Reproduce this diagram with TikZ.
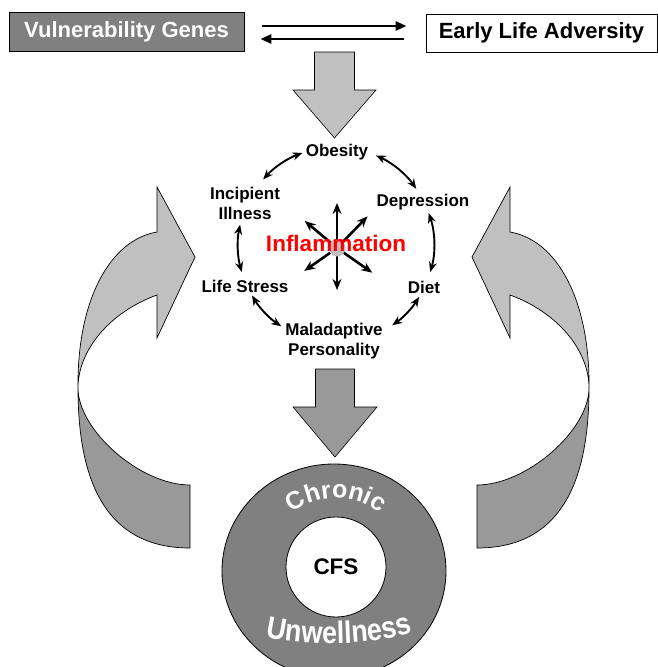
\documentclass[tikz,border=0pt]{standalone}
\usepackage{fontspec}
\setmainfont{Liberation Sans}
\newfontfamily\unwfont[FakeStretch=0.87]{Liberation Sans Bold}
\usetikzlibrary{arrows.meta,decorations.text}
\definecolor{lightg}{HTML}{C0C0C0}
\definecolor{darkg}{HTML}{999999}
\definecolor{boxg}{HTML}{808080}
\definecolor{inflred}{HTML}{FF0000}
\begin{document}
\begin{tikzpicture}[x=1pt,y=1pt,
  topbox/.style={draw=black, line width=0.8pt, inner sep=0pt, font=\fontsize{22}{24}\selectfont\bfseries},
  lbl/.style={font=\fontsize{17}{20}\selectfont\bfseries, align=center, inner sep=0pt},
  dbl/.style={line width=2.6pt, -{Triangle[length=11pt,width=9pt]}},
  cyc/.style={line width=1.9pt, {Stealth[length=10pt,width=8pt]}-{Stealth[length=10pt,width=8pt]}},
  stararrow/.style={line width=2.6pt, -{Stealth[length=11pt,width=9pt]}},
  blockarrow/.style={draw=black, line width=0.6pt, line join=miter},
  ribbon/.style={draw=black, line width=0.7pt}
]
\useasboundingbox (0,0) rectangle (658,-667);

% top boxes
\node[topbox, fill=boxg, text=white, minimum width=235pt, minimum height=39pt] (vg) at (126.5,-31.5) {Vulnerability Genes};
\node[topbox, fill=white, minimum width=231pt, minimum height=38pt] (ela) at (541.5,-33) {Early Life Adversity};
\draw[dbl] ([xshift=18pt,yshift=5.5pt]vg.east) -- ([xshift=-19pt,yshift=7pt]ela.west);
\draw[dbl] ([xshift=-22pt,yshift=-6pt]ela.west) -- ([xshift=16pt,yshift=-7.5pt]vg.east);

% block arrows
\draw[blockarrow, fill=lightg] (314.5,-52) -- (354.5,-52) -- (354.5,-90) -- (376,-90) -- (334.5,-138) -- (293,-90) -- (314.5,-90) -- cycle;
\draw[blockarrow, fill=darkg] (315.5,-369) -- (354.5,-369) -- (354.5,-407) -- (377,-407) -- (335,-457) -- (293,-407) -- (315.5,-407) -- cycle;

% side ribbons
\foreach \sx/\ox in {1/0,-1/667}{
\begin{scope}[shift={(\ox,0)},xscale=\sx]
\draw[ribbon, fill=darkg] (78,-388) .. controls (78,-430) and (140,-485) .. (190,-485) -- (190,-548) .. controls (105,-548) and (78,-480) .. (78,-388) -- cycle;
\draw[ribbon, fill=lightg] (157,-232) -- (157,-187) -- (195,-257) -- (157,-338) -- (157,-295) .. controls (110,-312) and (78,-350) .. (78,-388) .. controls (77,-300) and (110,-240) .. (157,-232) -- cycle;
\end{scope}
}

% cycle labels
\node[lbl] (ob) at (337,-152.5) {Obesity};
\node[lbl] (dep) at (423,-202) {Depression};
\node[lbl] (diet) at (424,-287.5) {Diet};
\node[lbl] (mal) at (334,-341) {Maladaptive\\Personality};
\node[lbl] (ls) at (245,-286) {Life Stress};
\node[lbl] (ii) at (245,-203.5) {Incipient\\Illness};

\coordinate (cc) at (336,-245);
\draw[cyc] ([shift={(110:98)}]cc) arc[start angle=110, end angle=138, radius=98];
\draw[cyc] ([shift={(66:98)}]cc) arc[start angle=66, end angle=35, radius=98];
\draw[cyc] ([shift={(19:98)}]cc) arc[start angle=19, end angle=-16, radius=98];
\draw[cyc] ([shift={(-32:98)}]cc) arc[start angle=-32, end angle=-55, radius=98];
\draw[cyc] ([shift={(-124:98)}]cc) arc[start angle=-124, end angle=-149, radius=98];
\draw[cyc] ([shift={(168:98)}]cc) arc[start angle=168, end angle=196, radius=98];

% inflammation star
\coordinate (ic) at (337,-248);
\draw[stararrow] (ic) -- ++(90:45);
\draw[stararrow] (ic) -- ++(-90:42);
\draw[stararrow] (ic) -- ++(46:44);
\draw[stararrow] (ic) -- ++(140:42);
\draw[stararrow] (ic) -- ++(-35:43);
\draw[stararrow] (ic) -- ++(-145:40);
\node[circle, fill=lightg, minimum size=17pt, inner sep=0pt] (gc) at (ic) {};
\node[font=\fontsize{22.5}{24}\selectfont\bfseries, text=inflred, inner sep=0pt] (infl) at (336,-243) {Inflammation};

% chronic unwellness ring
\draw[fill=boxg, line width=0.8pt] (334,-571) ellipse [x radius=112, y radius=107];
\node[circle, draw=black, line width=0.8pt, fill=white, minimum size=100pt, inner sep=0pt, font=\fontsize{22.5}{24}\selectfont\bfseries] (cfs) at (336,-567) {CFS};
\coordinate (rc) at (336,-570);
\path[decorate, decoration={text along path, text={|\fontsize{25}{25}\selectfont\bfseries|Chronic}, text align=center, text color=white}]
  ([shift={(155:72)}]rc) arc[start angle=155, end angle=25, radius=72];
\path[decorate, decoration={text along path, text={|\fontsize{31}{31}\unwfont|Unwellness}, text align=center, text color=white}]
  (258,-635) .. controls (298,-647) and (380,-647) .. (420,-630);
\end{tikzpicture}
\end{document}
